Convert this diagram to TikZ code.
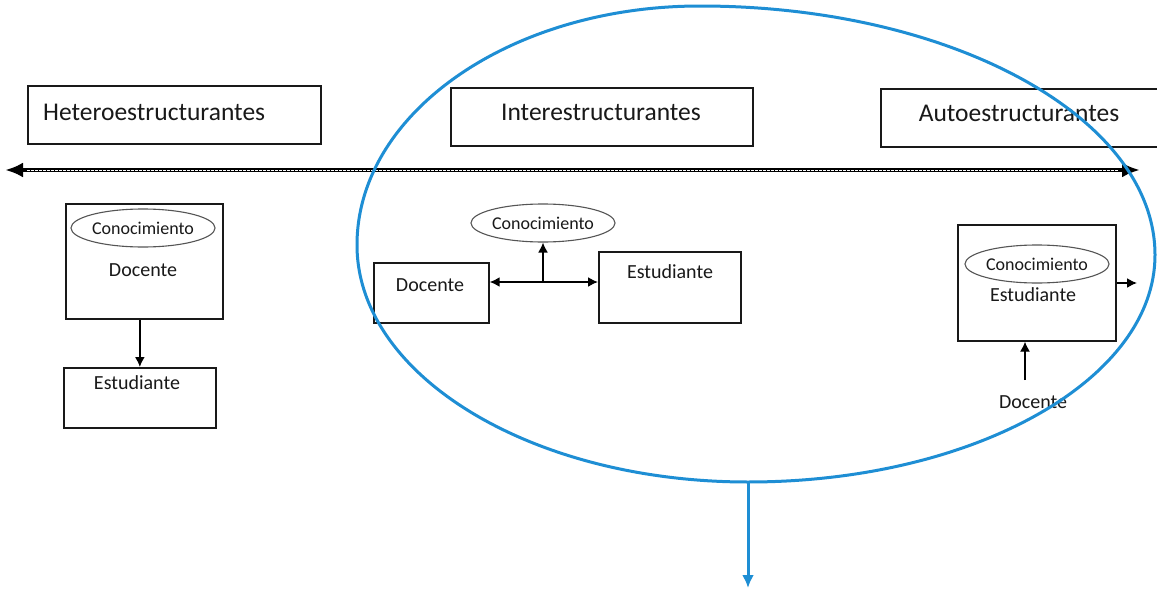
\documentclass[tikz,border=0pt]{standalone}
\usepackage{fontspec}
\setmainfont{Carlito}
\usetikzlibrary{arrows.meta,shapes.geometric}
\definecolor{ovalblue}{RGB}{30,142,212}
\definecolor{rimgray}{RGB}{85,85,85}
\definecolor{inkgray}{RGB}{25,25,25}
\begin{document}
\begin{tikzpicture}[x=1pt,y=-1pt,
  panel/.style={draw=inkgray, line width=1.7pt, inner sep=0pt, anchor=north west},
  heading/.style={font=\fontsize{25.5}{30}\selectfont, inner sep=0pt, text=inkgray},
  role/.style={font=\fontsize{20}{24}\selectfont, inner sep=0pt, text=inkgray},
  knows/.style={draw=rimgray, line width=1.1pt, ellipse, inner sep=0pt,
    minimum width=135pt, minimum height=38pt,
    font=\fontsize{18}{22}\selectfont, text=inkgray},
  link/.style={draw=black, line width=1.6pt, -{Latex[length=10pt,width=10pt]}},
  twoway/.style={draw=black, line width=1.6pt, {Latex[length=10pt,width=10pt]}-{Latex[length=10pt,width=10pt]}}]
\useasboundingbox[fill=white] (0,0) rectangle (1157,589);

% --- category headings
\node[panel, minimum width=293pt, minimum height=58pt] (hbox) at (27,85) {};
\node[heading, anchor=west] (htxt) at (43,112) {Heteroestructurantes};
\node[panel, minimum width=302pt, minimum height=58pt] (ibox) at (450,87) {};
\node[heading] (itxt) at (601,112) {Interestructurantes};
\node[panel, minimum width=290pt, minimum height=58pt] (abox) at (880,88) {};
\node[heading] (atxt) at (1019,113) {Autoestructurantes};

% --- continuum axis (double line with arrow tips)
\coordinate (axl) at (5,170);
\coordinate (axr) at (1140,170);
\draw[line width=4.2pt, {Latex[length=18pt,width=15pt]}-{Latex[length=18pt,width=15pt]}] (axl) -- (axr);
\draw[white, line width=0.6pt, dash pattern=on 2.5pt off 1.5pt] ([xshift=22pt]axl) -- ([xshift=-22pt]axr);

% --- heteroestructurante model
\node[panel, minimum width=157pt, minimum height=115pt] (ldoc) at (65,203) {};
\node[knows] (lknow) at (143,228) {Conocimiento};
\node[role] (ldoct) at (143,270) {Docente};
\node[panel, minimum width=152pt, minimum height=60pt] (lest) at (63,367) {};
\node[role] (lestt) at (137,383) {Estudiante};
\draw[link] (lest.north |- ldoc.south) -- (lest.north);

% --- interestructurante model
\node[panel, minimum width=115pt, minimum height=60pt] (mdoc) at (373,262) {};
\node[role] (mdoct) at (430,285) {Docente};
\node[panel, minimum width=142pt, minimum height=71pt] (mest) at (598,251) {};
\node[role] (mestt) at (670,272) {Estudiante};
\node[knows] (mknow) at (543,223) {Conocimiento};
\coordinate (hub) at (543,282);
\draw[twoway] (mdoc.east |- hub) -- (mest.west |- hub);
\draw[link] (hub) -- (mknow.south);

% --- autoestructurante model
\node[panel, minimum width=158pt, minimum height=116pt] (rbox) at (957,224) {};
\node[knows] (rknow) at (1037,264) {Conocimiento};
\node[role] (restt) at (1033,295) {Estudiante};
\coordinate (rout) at (1137,283);
\draw[link] (rbox.east |- rout) -- (rout);
\node[role] (rdoct) at (1033,402) {Docente};
\coordinate (rin) at (1025,380);
\draw[link, line width=1.2pt] (rin) -- (rin |- rbox.south);

% --- hand-drawn highlight loop: four elliptic quarters of unequal radii
\draw[ovalblue, line width=3pt]
  (357,245)
  arc[start angle=180, end angle=90,  x radius=343pt, y radius=239pt]
  arc[start angle=90,  end angle=0,   x radius=455pt, y radius=249pt]
  arc[start angle=0,   end angle=-90, x radius=407pt, y radius=227pt]
  arc[start angle=270, end angle=180, x radius=391pt, y radius=237pt]
  -- cycle;
\coordinate (loopfoot) at (748,482);
\coordinate (down) at (748,588);
\draw[ovalblue, line width=3pt, -{Latex[length=13pt,width=12pt]}] (loopfoot) -- (down);
\end{tikzpicture}
\end{document}
